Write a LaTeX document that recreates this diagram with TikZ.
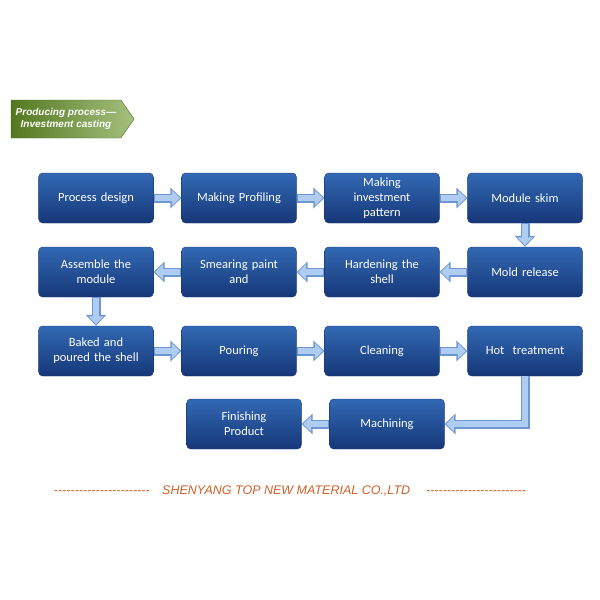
\documentclass[tikz,border=0pt]{standalone}
\usepackage{fontspec}
\setmainfont{Carlito}
\newfontfamily\arialf{Liberation Sans}
\usetikzlibrary{arrows.meta,shapes.arrows}
\definecolor{boxa}{RGB}{50,105,180}
\definecolor{boxb}{RGB}{22,55,120}
\definecolor{arr}{RGB}{175,205,242}
\definecolor{arrd}{RGB}{110,150,210}
\definecolor{grn}{RGB}{105,150,40}
\definecolor{org}{RGB}{205,95,40}
\begin{document}
\begin{tikzpicture}[x=1pt,y=-1pt,
  box/.style={draw=boxb,rounded corners=4pt,minimum width=114pt,minimum height=50pt,
    top color=boxa,bottom color=boxb,text=white,align=center,text width=108pt,font=\fontsize{12.5}{15}\selectfont},
  con/.style={draw=arrd,line width=9pt,-{Triangle[length=11pt,width=20pt]}},
  coni/.style={draw=arr,line width=6pt,-{Triangle[length=8pt,width=15pt]}}]
\useasboundingbox (0,0) rectangle (600,600);
\node[single arrow,single arrow head extend=0pt,single arrow tip angle=110,shape border uses incircle=false,
  minimum height=123pt,minimum width=38pt,left color=grn!80!black,right color=grn!60!white,
  draw=grn!70!black,text=white,inner sep=1pt,font=\arialf\bfseries\itshape\fontsize{10}{12}\selectfont,align=center]
  (ban) at (66,119) {Producing process—\\Investment casting};
\node[box] (a1) at (96,198) {Process design};
\node[box] (a2) at (239,198) {Making Profiling};
\node[box] (a3) at (382,198) {Making\\investment\\pattern};
\node[box] (a4) at (525,198) {Module skim};
\node[box] (b4) at (525,272) {Mold release};
\node[box] (b3) at (382,272) {Hardening the\\shell};
\node[box] (b2) at (239,272) {Smearing paint\\and};
\node[box] (b1) at (96,272) {Assemble the\\module};
\node[box] (c1) at (96,351) {Baked and\\poured the shell};
\node[box] (c2) at (239,351) {Pouring};
\node[box] (c3) at (382,351) {Cleaning};
\node[box] (c4) at (525,351) {Hot \ treatment};
\node[box] (d2) at (387,424) {Machining};
\node[box] (d1) at (244,424) {Finishing\\Product};
\coordinate (k) at (525,424);
\foreach \s/\t in {a1/a2,a2/a3,a3/a4,a4/b4,b4/b3,b3/b2,b2/b1,b1/c1,c1/c2,c2/c3,c3/c4,d2/d1}{
  \draw[con] (\s) -- (\t);
  \draw[coni,shorten >=1.5pt,shorten <=1pt] (\s) -- (\t);}
\draw[con] (c4.south) -- (k) -- (d2.east);
\draw[coni,shorten >=1.5pt] (c4.south) -- (k) -- (d2.east);
\node[text=org,font=\arialf\itshape\fontsize{12.5}{15}\selectfont] (ft) at (290,491)
  {-{}-{}-{}-{}-{}-{}-{}-{}-{}-{}-{}-{}-{}-{}-{}-{}-{}-{}-{}-{}-{}-{}-\quad SHENYANG TOP NEW MATERIAL CO.,LTD \quad-{}-{}-{}-{}-{}-{}-{}-{}-{}-{}-{}-{}-{}-{}-{}-{}-{}-{}-{}-{}-{}-{}-{}-};
\end{tikzpicture}
\end{document}
